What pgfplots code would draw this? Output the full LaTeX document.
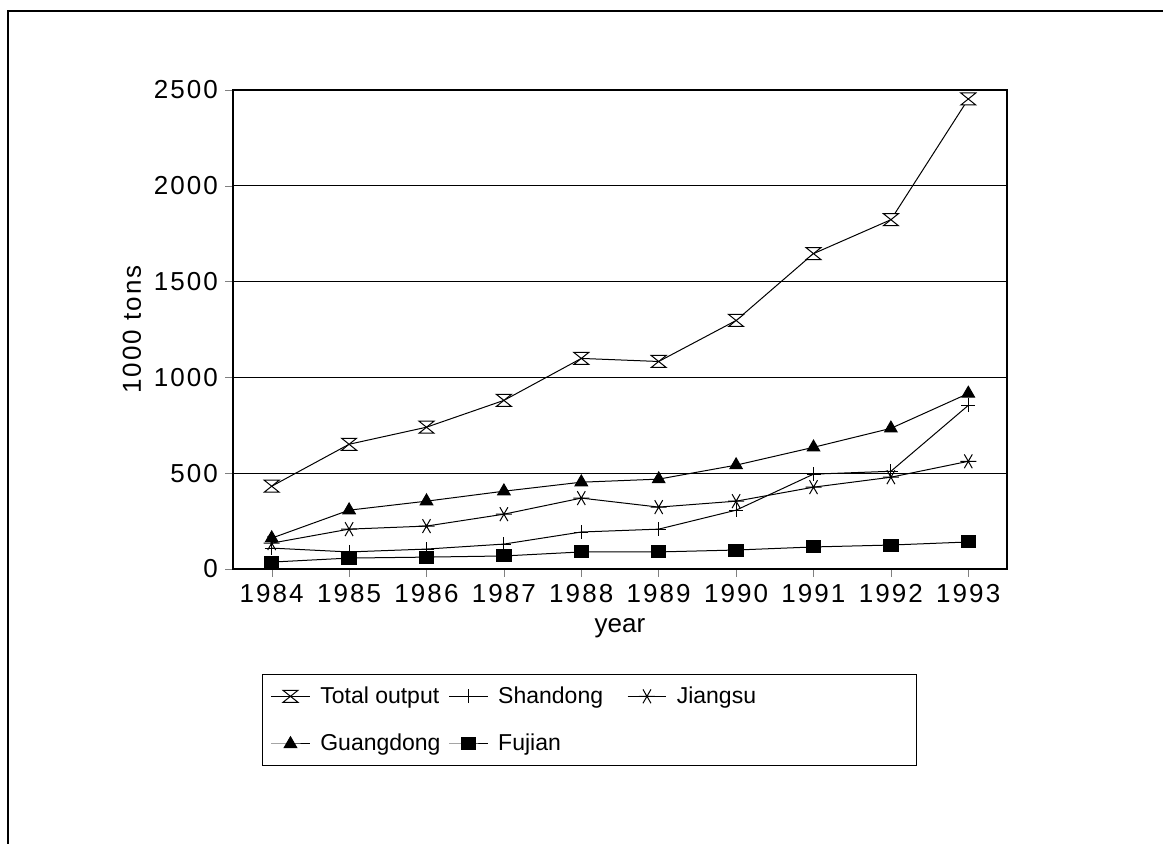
\documentclass[border=0pt]{standalone}
\usepackage{fontspec}
\setmainfont{Liberation Sans}
\newfontfamily\tickfont{Liberation Sans}[LetterSpace=8]
\usepackage{pgfplots}
\pgfplotsset{compat=1.18}
\pgfdeclareplotmark{hourglass}{%
  \pgfpathmoveto{\pgfpoint{-\pgfplotmarksize}{0.8\pgfplotmarksize}}%
  \pgfpathlineto{\pgfpoint{\pgfplotmarksize}{0.8\pgfplotmarksize}}%
  \pgfpathlineto{\pgfpoint{-\pgfplotmarksize}{-0.8\pgfplotmarksize}}%
  \pgfpathlineto{\pgfpoint{\pgfplotmarksize}{-0.8\pgfplotmarksize}}%
  \pgfpathclose
  \pgfusepathqfillstroke}
\begin{document}
\begin{tikzpicture}
\path[use as bounding box] (0,0) rectangle (581.5pt,422pt);
\draw[line width=1.3pt] (4pt,0) -- (4pt,416.5pt) -- (581.5pt,416.5pt);
\begin{axis}[
  at={(116.5pt,137.5pt)}, anchor=south west,
  scale only axis, width=387pt, height=239.5pt,
  xmin=1983.5, xmax=1993.5, ymin=0, ymax=2500,
  xtick={1984,...,1993}, ytick={0,500,...,2500},
  tick pos=left, tick align=outside,
  major tick length=4pt,
  axis line style={line width=0.7pt},
  ymajorgrids, grid style={black, line width=0.6pt},
  /pgf/number format/1000 sep={},
  /pgf/number format/assume math mode=true,
  ticklabel style={font=\tickfont\fontsize{13}{15}\selectfont},
  every axis y label/.style={at={(axis description cs:-0.1305,0.5)}, rotate=90, anchor=center, font=\tickfont\fontsize{13}{15}\selectfont},
  every axis x label/.style={at={(axis description cs:0.5,-0.123)}, anchor=center, font=\fontsize{13}{15}\selectfont},
  ylabel={1000 tons}, xlabel={year},
  legend image code/.code={\draw[mark repeat=2,mark phase=2] plot coordinates {(0cm,0cm)(0.34cm,0cm)(0.68cm,0cm)};},
  legend style={at={(0.0375,-0.219)}, anchor=north west, draw=black, line width=0.6pt,
    font=\fontsize{11.5}{13}\selectfont, inner sep=4pt, row sep=10pt,
    /tikz/column 1/.style={column sep=3pt},
    /tikz/column 3/.style={column sep=3pt},
    /tikz/column 5/.style={column sep=3pt},
    /tikz/column 2/.style={column sep=2pt},
    /tikz/column 4/.style={column sep=10pt}},
  legend columns=3, legend cell align=left,
  every axis plot/.append style={black, line width=0.5pt},
]
\addplot[mark=hourglass, mark size=3.75pt, mark options={fill=white}] coordinates {
(1984,432)(1985,651)(1986,740)(1987,880)(1988,1099)(1989,1083)(1990,1297)(1991,1646)(1992,1823)(1993,2453)};
\addlegendentry{Total output}
\addplot[mark=+, mark size=3.5pt] coordinates {
(1984,109)(1985,89)(1986,104)(1987,130)(1988,193)(1989,208)(1990,307)(1991,495)(1992,510)(1993,854)};
\addlegendentry{Shandong}
\addplot[mark=asterisk, mark size=4pt, mark options={rotate=90}] coordinates {
(1984,135)(1985,208)(1986,224)(1987,286)(1988,370)(1989,323)(1990,354)(1991,427)(1992,479)(1993,562)};
\addlegendentry{Jiangsu\hspace*{74pt}}
\addplot[mark=triangle*, mark size=3.6pt] coordinates {
(1984,161)(1985,307)(1986,354)(1987,406)(1988,453)(1989,469)(1990,542)(1991,635)(1992,734)(1993,916)};
\addlegendentry{Guangdong}
\addplot[mark=square*, mark size=3pt, mark options={xscale=1.2}] coordinates {
(1984,36)(1985,57)(1986,62)(1987,68)(1988,89)(1989,89)(1990,99)(1991,115)(1992,125)(1993,141)};
\addlegendentry{Fujian}
\end{axis}
\end{tikzpicture}
\end{document}
